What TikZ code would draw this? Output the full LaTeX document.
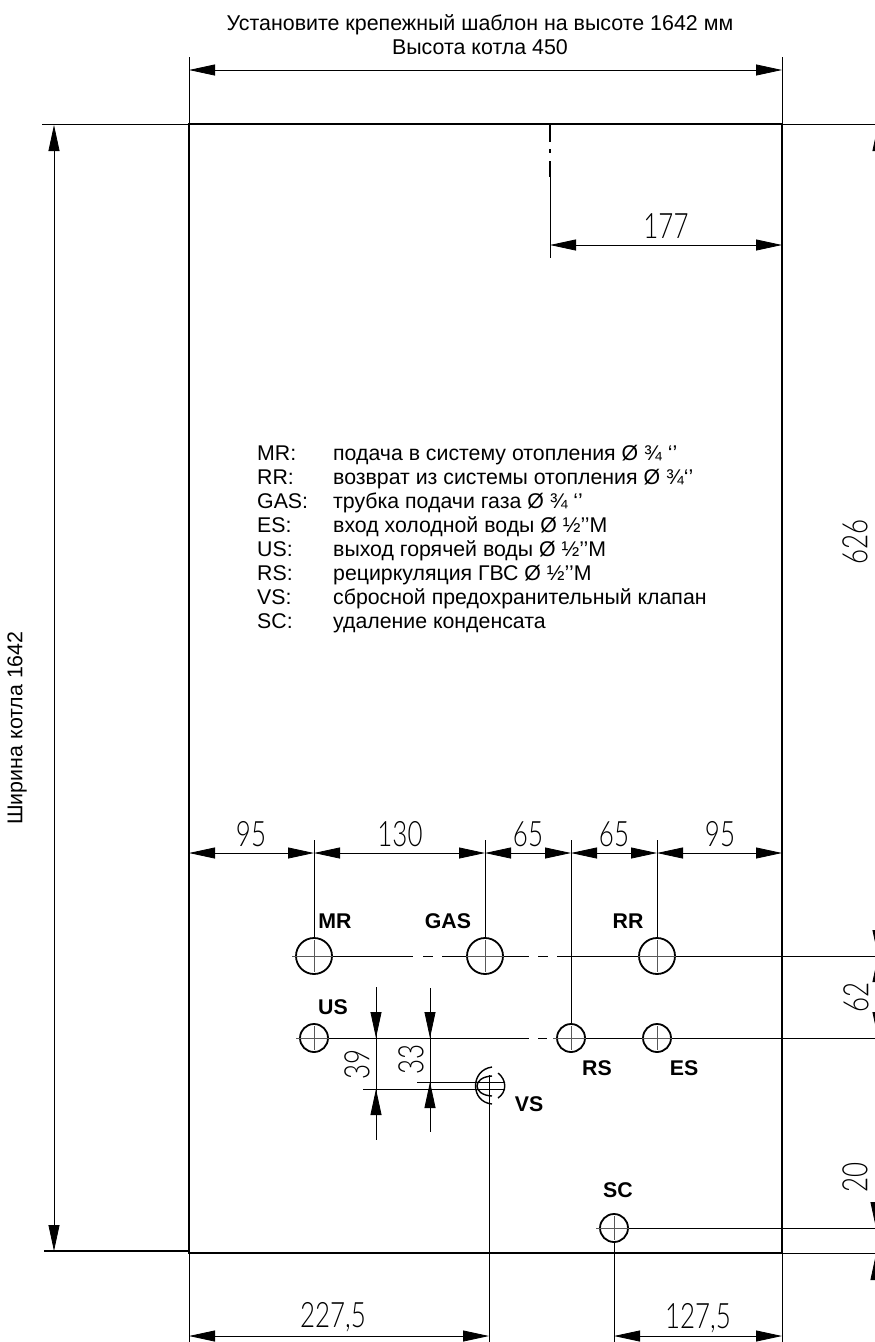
\documentclass[tikz,border=0pt]{standalone}
\usepackage{fontspec}
\setmainfont{Liberation Sans}
\newfontfamily\dimfont[FakeStretch=0.74]{Lato Light}
\usetikzlibrary{arrows.meta}
\tikzset{
	outline/.style={line width=2.1pt},
	thinline/.style={line width=0.8pt},
	crossline/.style={line width=0.6pt,black!65},
	hole/.style={circle,draw,line width=1.8pt,inner sep=0pt},
	dim/.style={line width=0.8pt,{Triangle[length=26pt,width=11pt]}-{Triangle[length=26pt,width=11pt]}},
	tip/.style={line width=0.8pt,-{Triangle[length=26pt,width=11pt]}},
	dimlabel/.style={font=\dimfont\fontsize{35}{35}\selectfont,inner sep=0pt},
	portlabel/.style={font=\bfseries\fontsize{21.3}{21.3}\selectfont,inner sep=0pt},
	textlabel/.style={font=\fontsize{21.4}{24}\selectfont,inner sep=0pt,align=center},
	listlabel/.style={font=\fontsize{21.3}{21.3}\selectfont,inner sep=0pt,anchor=base west}
}
\begin{document}
\begin{tikzpicture}[x=1pt,y=-1pt]
			\useasboundingbox (0,0) rectangle (875,1342);
			% corners of the template
			\coordinate (tl) at (189,124);
			\coordinate (tr) at (782,124);
			\coordinate (bl) at (189,1253);
			\coordinate (br) at (782,1253);
			\draw[outline] (tl)--(tr)--(br)--(bl)--cycle;
			% holes
			\node[hole,minimum size=36pt] (mr) at (314,956) {};
			\node[hole,minimum size=36pt] (gas) at (485,956) {};
			\node[hole,minimum size=36pt] (rr) at (657,956) {};
			\node[hole,minimum size=28pt] (us) at (314,1038) {};
			\node[hole,minimum size=28pt] (rs) at (571,1038) {};
			\node[hole,minimum size=28pt] (es) at (657,1038) {};
			\node[hole,minimum size=28pt] (sc) at (614,1228) {};
			\coordinate (vs) at (489,1086);
			\node[portlabel] (mrlabel) at (335,921) {MR};
			\node[portlabel] (gaslabel) at (448,921) {GAS};
			\node[portlabel] (rrlabel) at (628,921) {RR};
			\node[portlabel] (uslabel) at (333,1007) {US};
			\node[portlabel] (rslabel) at (597,1068) {RS};
			\node[portlabel] (eslabel) at (684,1068) {ES};
			\node[portlabel] (vslabel) at (529,1104) {VS};
			\node[portlabel] (sclabel) at (618,1190) {SC};
			% VS connection
			\draw[line width=1.4pt] (492,1067) .. controls (470,1070) and (470,1102) .. (492,1104);
			\draw[line width=1.4pt] (492,1076) .. controls (472,1077) and (472,1095) .. (492,1096);
			\draw[line width=1.4pt] (498,1073) .. controls (507,1080) and (507,1092) .. (498,1098);
			\draw[thinline] (417,1082)--(505,1082);
			\draw[thinline] (363,1089)--(505,1089);
			% center lines
			\foreach \h in {mr,gas,rr,us,rs,es,sc}{
				\draw[crossline] ([xshift=-3pt]\h.west)--([xshift=3pt]\h.east);
				\draw[crossline] ([yshift=-3pt]\h.north)--([yshift=3pt]\h.south);}
			\draw[thinline] (mr.east)--(413,956) (423,956)--(433,956) (442,956)--(gas.west);
			\draw[thinline] (gas.east)--(529,956) (538,956)--(548,956) (557,956)--(rr.west);
			\draw[thinline] (rr.east)--(875,956);
			\draw[thinline] (us.east)--(529,1038) (538,1038)--(547,1038);
			\draw[thinline] (rs.east)--(es.west);
			\draw[thinline] (es.east)--(875,1038);
			\draw[thinline] (sc.east)--(875,1228);
			% extension lines
			\draw[thinline] (189,57)--(tl) (782,57)--(tr);
			\draw[thinline] (42,124)--(tl) (tr)--(875,124);
			\draw[line width=1.6pt] (44,1251)--(189,1251);
			\draw[line width=2.2pt] (550,125)--(550,142) (550,149)--(550,153) (550,161)--(550,177);
			\draw[thinline] (550,177)--(550,258);
			\draw[thinline] (314,840)--(mr.north) (485,840)--(gas.north) (571,840)--(rs.north) (657,840)--(rr.north);
			\draw[thinline] (489,1075)--(489,1342);
			\draw[thinline] (sc.south)--(614,1342);
			\draw[thinline] (bl)--(189,1342) (br)--(782,1342);
			\draw[thinline] (782,1253)--(875,1253);
			\draw[thinline] (376,987)--(376,1140);
			\draw[thinline] (430,988)--(430,1132);
			% dimensions
			\draw[dim] (189,70)--(782,70);
			\draw[dim] (54,125)--(54,1251);
			\draw[dim] (550,245)--(782,245);
			\node[dimlabel] (d177) at (666,226) {177};
			\draw[dim] (189,853)--(314,853);
			\draw[dim] (314,853)--(485,853);
			\draw[dim] (485,853)--(571,853);
			\draw[dim] (571,853)--(657,853);
			\draw[dim] (657,853)--(782,853);
			\node[dimlabel] (d95a) at (251,834) {95};
			\node[dimlabel] (d130) at (400,834) {130};
			\node[dimlabel] (d65a) at (528,834) {65};
			\node[dimlabel] (d65b) at (614,834) {65};
			\node[dimlabel] (d95b) at (720,834) {95};
			\draw[tip] (376,1000)--(376,1038);
			\draw[tip] (376,1127)--(376,1089);
			\draw[tip] (430,1000)--(430,1038);
			\draw[tip] (430,1120)--(430,1082);
			\node[dimlabel,rotate=90] (d39) at (357,1064) {39};
			\node[dimlabel,rotate=90] (d33) at (411,1059) {33};
			\draw[dim] (189,1336)--(489,1336);
			\draw[dim] (614,1336)--(782,1336);
			\node[dimlabel] (d227) at (333,1317) {227,5};
			\node[dimlabel] (d127) at (698,1318) {127,5};
			\node[dimlabel,rotate=90] (d626) at (855,542) {626};
			\node[dimlabel,rotate=90] (d62) at (856,997) {62};
			\node[dimlabel,rotate=90] (d20) at (855,1177) {20};
			% texts
			\node[textlabel] (title) at (480,35) {Установите крепежный шаблон на высоте 1642 мм\\Высота котла 450};
			\node[textlabel,rotate=90] (width) at (17,728) {Ширина котла 1642};
			\foreach \y/\k/\t in {
				460/MR:/подача в систему отопления Ø ¾ ‘’,
				484/RR:/возврат из системы отопления Ø ¾‘’,
				508/GAS:/трубка подачи газа Ø ¾ ‘’,
				532/ES:/вход холодной воды Ø ½’’M,
				556/US:/выход горячей воды Ø ½’’M,
				580/RS:/рециркуляция ГВС Ø ½’’M,
				604/VS:/сбросной предохранительный клапан,
				628/SC:/удаление конденсата}{
				\node[listlabel] (key\k) at (257,\y) {\k};
				\node[listlabel] (desc\k) at (333,\y) {\t};}
			% cut off by the right edge
			\clip (0,0) rectangle (875,1342);
			\draw[tip] (878,165)--(878,125);
			\draw[tip] (878,915)--(878,956);
			\draw[tip] (878,1000)--(878,956);
			\draw[tip] (878,995)--(878,1038);
			\draw[tip] (876,1190)--(876,1228);
			\draw[tip] (876,1295)--(876,1254);
	\end{tikzpicture}
\end{document}
